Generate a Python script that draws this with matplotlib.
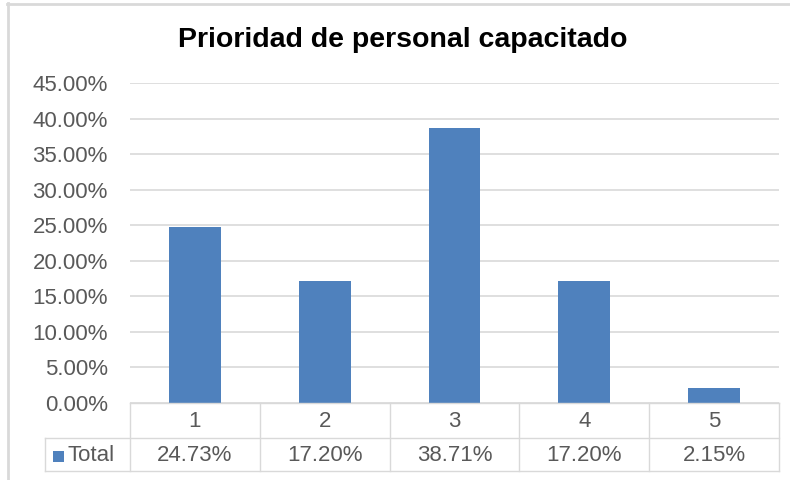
import matplotlib
matplotlib.use("Agg")
import matplotlib.pyplot as plt
from matplotlib.lines import Line2D
from matplotlib.patches import Rectangle

categories = ["1", "2", "3", "4", "5"]
values = [24.73, 17.20, 38.71, 17.20, 2.15]
series_name = "Total"
yticks = [0, 5, 10, 15, 20, 25, 30, 35, 40, 45]
title = "Prioridad de personal capacitado"

plt.rcParams['font.family'] = ['Liberation Sans', 'DejaVu Sans']

W, H = 790, 480
fig = plt.figure(figsize=(W / 100, H / 100), dpi=100)
fig.patch.set_facecolor("white")

def fx(px):
    return px / W

def fy(py):
    return 1 - py / H

left_px, right_px, top_px, bot_px = 130, 779, 83, 403
ax = fig.add_axes([fx(left_px), fy(bot_px), fx(right_px - left_px), (bot_px - top_px) / H])

bar_color = "#4F81BD"
grid_color = "#D9D9D9"
text_color = "#595959"
fs = 16

x = list(range(len(categories)))
ax.bar(x, values, width=0.4, color=bar_color, zorder=3)
ax.set_xlim(-0.5, len(categories) - 0.5)
ax.set_ylim(0, 45)
ax.set_yticks(yticks)
ax.set_yticklabels([f"{v:.2f}%" for v in yticks], color=text_color, fontsize=fs)
ax.tick_params(axis="y", length=0, pad=16)
ax.set_xticks([])
for s in ax.spines.values():
    s.set_visible(False)
ax.grid(axis="y", color=grid_color, linewidth=1.2, zorder=0)
ax.set_axisbelow(True)

# Title
fig.text(fx(403), fy(40), title, ha="center", va="center", fontsize=20.5,
         fontweight="bold", color="black")

# Data table below the axes
tr = fig.transFigure
row1_top, row1_bot, row2_bot = 403, 438, 471
legend_left = 45
cat_w = (right_px - left_px) / len(categories)
lw = 1.0

def hline(x0, x1, y):
    fig.add_artist(Line2D([fx(x0), fx(x1)], [fy(y), fy(y)], transform=tr, color=grid_color, lw=lw))

def vline(xp, y0, y1):
    fig.add_artist(Line2D([fx(xp), fx(xp)], [fy(y0), fy(y1)], transform=tr, color=grid_color, lw=lw))

hline(left_px, right_px, row1_top)
hline(legend_left, right_px, row1_bot)
hline(legend_left, right_px, row2_bot)
vline(legend_left, row1_bot, row2_bot)
for i in range(len(categories) + 1):
    xp = left_px + i * cat_w
    vline(xp, row1_top, row2_bot)

for i, (c, v) in enumerate(zip(categories, values)):
    cx = left_px + (i + 0.5) * cat_w
    fig.text(fx(cx), fy((row1_top + row1_bot) / 2 + 1), c, ha="center", va="center",
             fontsize=fs, color=text_color)
    fig.text(fx(cx), fy((row1_bot + row2_bot) / 2 + 1), f"{v:.2f}%", ha="center", va="center",
             fontsize=fs, color=text_color)

# legend key in table
fig.add_artist(Rectangle((fx(53), fy(462)), fx(11), 11 / H, transform=tr,
                         facecolor=bar_color, edgecolor="none"))
fig.text(fx(68), fy((row1_bot + row2_bot) / 2 + 1), series_name, ha="left", va="center",
         fontsize=fs, color=text_color)

# Chart area border (top and left visible)
fig.add_artist(Line2D([fx(7), fx(790)], [fy(3.5), fy(3.5)], transform=tr, color="#D9D9D9", lw=2))
fig.add_artist(Line2D([fx(7.5), fx(7.5)], [fy(3), fy(480)], transform=tr, color="#D9D9D9", lw=2))

fig.savefig("out.png", dpi=100)
